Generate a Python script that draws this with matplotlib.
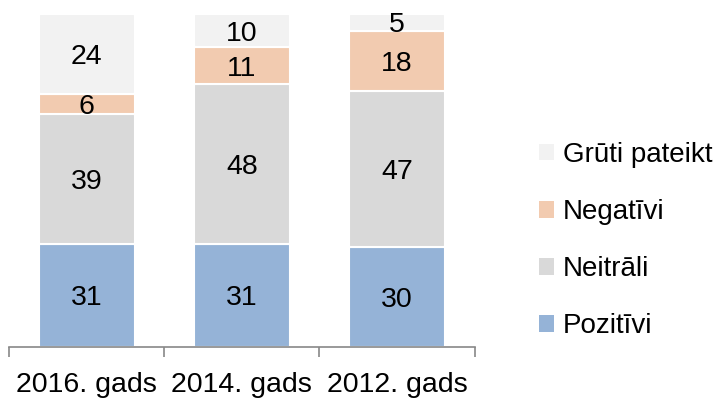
import numpy as np
import matplotlib.pyplot as plt
from matplotlib.patches import Patch

plt.rcParams['font.family'] = ['Liberation Sans', 'DejaVu Sans']

years = ["2016. gads", "2014. gads", "2012. gads"]
series = ["Pozitīvi", "Neitrāli", "Negatīvi", "Grūti pateikt"]
pozitivi = [31, 31, 30]
neitrali = [39, 48, 47]
negativi = [6, 11, 18]
gruti = [24, 10, 5]
colors = ["#95b3d7", "#d9d9d9", "#f2cbb0", "#f2f2f2"]

fig = plt.figure(figsize=(7.22, 4.01), dpi=100)
ax = fig.add_axes([0.0125, 0.135, 0.645, 0.83])

x = np.arange(len(years))
bottom = np.zeros(len(years))
for name, vals, col in zip(series, [pozitivi, neitrali, negativi, gruti], colors):
    vals = np.array(vals)
    ax.bar(x, vals, width=0.62, bottom=bottom, color=col, edgecolor="white", linewidth=1.5)
    for xi, b, v in zip(x, bottom, vals):
        ax.text(xi, b + v / 2, str(v), ha="center", va="center_baseline", fontsize=20.5, color="black")
    bottom += vals

ax.set_xlim(-0.5, 2.5)
ax.set_ylim(0, 100)
ax.set_yticks([])
for s in ["top", "right", "left"]:
    ax.spines[s].set_visible(False)
ax.spines["bottom"].set_color("#888888")
ax.spines["bottom"].set_linewidth(1.2)
ax.set_xticks(x)
ax.set_xticklabels(years, fontsize=20.5)
ax.tick_params(axis="x", which="major", length=0, pad=18)
ax.set_xticks([-0.5, 0.5, 1.5, 2.5], minor=True)
ax.tick_params(axis="x", which="minor", length=7.5, width=1.2, color="#888888")

handles = [Patch(facecolor=c, edgecolor="none") for c in colors]
fig.legend(handles[::-1], series[::-1], loc="center left", bbox_to_anchor=(0.712, 0.4),
           frameon=False, fontsize=20, handlelength=0.55, handleheight=0.55,
           handletextpad=0.3, labelspacing=1.12)

fig.savefig("out.png", dpi=100)
